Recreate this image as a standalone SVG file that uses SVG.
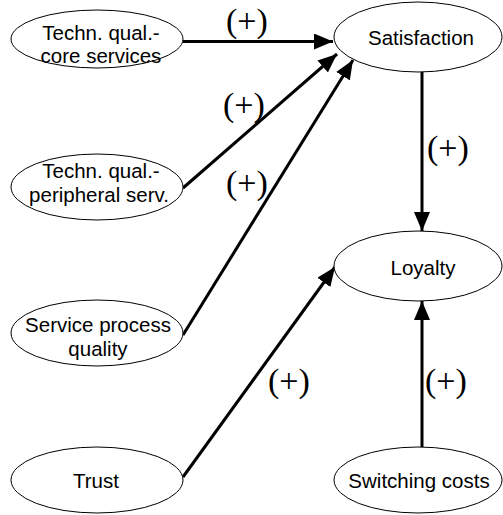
<svg xmlns="http://www.w3.org/2000/svg" width="503" height="515" viewBox="0 0 503 515">
  <style>
    .node ellipse { fill: #ffffff; stroke: #000000; stroke-width: 1; }
    .node text { font-family: "Liberation Sans", Arial, sans-serif; font-size: 20.5px; fill: #000000; text-anchor: middle; }
    .edge { stroke: #000000; stroke-width: 3; fill: none; marker-end: url(#head); }
    .sign { font-family: "Liberation Serif", "Times New Roman", serif; font-size: 34px; fill: #000000; }
  </style>
  <defs>
    <marker id="head" markerUnits="userSpaceOnUse" markerWidth="20" markerHeight="16" viewBox="0 0 20 16" refX="19" refY="8" orient="auto">
      <path d="M0,0 L19,8 L0,16 Z" fill="#000000"/>
    </marker>
  </defs>

  <rect width="503" height="515" fill="#ffffff"/>

  <g id="connectors">
    <line class="edge" x1="183" y1="41.5" x2="333" y2="41.5"/>
    <line class="edge" x1="183" y1="188" x2="337" y2="54"/>
    <line class="edge" x1="183" y1="335" x2="353" y2="60"/>
    <line class="edge" x1="183" y1="477" x2="335" y2="267"/>
    <line class="edge" x1="422" y1="72" x2="422" y2="231"/>
    <line class="edge" x1="422" y1="447" x2="422" y2="301"/>
    <text class="sign" x="226" y="32">(+)</text>
    <text class="sign" x="223" y="116">(+)</text>
    <text class="sign" x="226" y="194">(+)</text>
    <text class="sign" x="427" y="159">(+)</text>
    <text class="sign" x="268" y="392">(+)</text>
    <text class="sign" x="425" y="392">(+)</text>
  </g>

  <g id="core" class="node">
    <ellipse cx="97" cy="39" rx="86" ry="29"/>
    <text x="101" y="39.5">Techn. qual.-</text>
    <text x="101" y="63">core services</text>
  </g>
  <g id="peripheral" class="node">
    <ellipse cx="97" cy="187" rx="86" ry="33"/>
    <text x="101" y="178">Techn. qual.-</text>
    <text x="99" y="202">peripheral serv.</text>
  </g>
  <g id="process" class="node">
    <ellipse cx="97" cy="333" rx="86" ry="33"/>
    <text x="98" y="332">Service process</text>
    <text x="98" y="356">quality</text>
  </g>
  <g id="trust" class="node">
    <ellipse cx="97" cy="480" rx="86" ry="33"/>
    <text x="96" y="488">Trust</text>
  </g>
  <g id="satisfaction" class="node">
    <ellipse cx="418" cy="37" rx="84" ry="35"/>
    <text x="421" y="45">Satisfaction</text>
  </g>
  <g id="loyalty" class="node">
    <ellipse cx="418" cy="266" rx="84" ry="35"/>
    <text x="423" y="275">Loyalty</text>
  </g>
  <g id="switching" class="node">
    <ellipse cx="418" cy="480" rx="84" ry="33"/>
    <text x="419" y="488">Switching costs</text>
  </g>
</svg>
